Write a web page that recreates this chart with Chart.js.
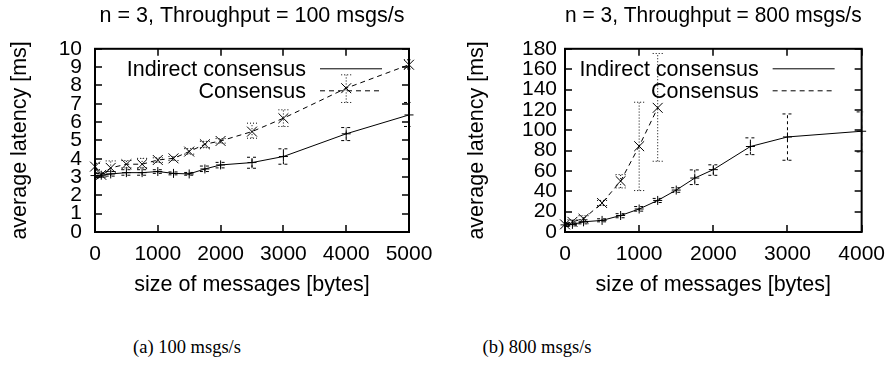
<!DOCTYPE html>
<html>
<head>
<meta charset="utf-8">
<script src="https://cdn.jsdelivr.net/npm/chart.js@4/dist/chart.umd.min.js"></script>
<style>
  body { margin: 0; background: #fff; width: 895px; height: 372px; position: relative; overflow: hidden; }
  canvas { position: absolute; top: 0; }
  .cap { position: absolute; top: 336px; width: 300px; text-align: center; font: 18.5px "Liberation Serif", "Times New Roman", serif; color: #000; line-height: 22px; }
</style>
</head>
<body>
<canvas id="chartA" width="447" height="300" style="left:0"></canvas>
<canvas id="chartB" width="448" height="300" style="left:447px"></canvas>
<div class="cap" style="left:37px">(a) 100 msgs/s</div>
<div class="cap" style="left:387px">(b) 800 msgs/s</div>
<script>
// message sizes (bytes)
const sizes = [0, 100, 250, 500, 750, 1000, 1250, 1500, 1750, 2000, 2500, 3000, 4000, 5000];

// 100 msgs/s
const indirect100 = [3.08, 3.1, 3.17, 3.24, 3.24, 3.3, 3.2, 3.17, 3.44, 3.66, 3.79, 4.12, 5.36, 6.39];
const indirect100Lo = [2.95, 3.0, 3.05, 3.1, 3.1, 3.2, 3.12, 3.1, 3.3, 3.5, 3.48, 3.7, 4.99, 5.76];
const indirect100Hi = [3.2, 3.2, 3.3, 3.4, 3.4, 3.4, 3.28, 3.25, 3.6, 3.8, 4.08, 4.54, 5.7, 7.07];
const consensus100 = [3.57, 3.12, 3.5, 3.7, 3.7, 3.93, 4.02, 4.39, 4.79, 4.97, 5.48, 6.21, 7.85, 9.13];
const consensus100Lo = [3.4, 3.0, 3.3, 3.5, 3.5, 3.8, 3.9, 4.25, 4.6, 4.85, 5.12, 5.76, 7.07, 8.9];
const consensus100Hi = [3.75, 3.25, 3.88, 3.9, 4.02, 4.05, 4.12, 4.55, 4.95, 5.1, 5.94, 6.67, 8.58, 9.4];

// 800 msgs/s
const indirect800 = [7, 7.5, 10, 11.4, 16.2, 22.6, 31, 41.2, 53, 61.3, 84, 93.4, 99];
const indirect800Lo = [5.5, 6, 8, 10, 14, 20.5, 29, 39, 46.6, 55.7, 76, 70.5, 78.7];
const indirect800Hi = [8.5, 9, 12, 13, 18, 25, 33, 43.5, 61, 66, 92.5, 116, 118];
const consensus800 = [7.5, 10, 13, 28.5, 50, 84.3, 122];
const consensus800Lo = [6, 8, 10, 26, 43.3, 40.7, 69.5];
const consensus800Hi = [9, 12, 16, 31, 56.4, 127.5, 175.4];

const seriesNames = ['Indirect consensus', 'Consensus'];
const titles = ['n = 3, Throughput = 100 msgs/s', 'n = 3, Throughput = 800 msgs/s'];
const xTitle = 'size of messages [bytes]';
const yTitle = 'average latency [ms]';

const FONT = '"Liberation Sans", Arial, Helvetica, sans-serif';
const pts = (ys) => ys.map((y, i) => ({x: sizes[i], y: y}));

// gnuplot-like frame, inward ticks, error bars and legend
const gnuplotLook = {
  id: 'gnuplotLook',
  afterDatasetsDraw(chart) {
    const {ctx, chartArea: a, scales} = chart;
    const xs = scales.x, ys = scales.y;
    ctx.save();
    // error bars
    ctx.beginPath();
    ctx.rect(a.left, a.top - 40, a.right - a.left + 1.5, a.bottom - a.top + 40);
    ctx.clip();
    ctx.strokeStyle = '#000';
    ctx.lineWidth = 1;
    chart.data.datasets.forEach((ds) => {
      ctx.setLineDash(ds.errDash);
      ds.data.forEach((p, i) => {
        const px = xs.getPixelForValue(p.x);
        const lo = ys.getPixelForValue(ds.errLo[i]);
        const hi = ys.getPixelForValue(ds.errHi[i]);
        ctx.beginPath();
        ctx.moveTo(px, lo); ctx.lineTo(px, hi);
        ctx.moveTo(px - 5, lo); ctx.lineTo(px + 5, lo);
        ctx.moveTo(px - 5, hi); ctx.lineTo(px + 5, hi);
        ctx.stroke();
      });
    });
    ctx.restore();

    // legend inside top right
    ctx.save();
    ctx.font = '21.5px ' + FONT;
    ctx.fillStyle = '#000';
    ctx.textAlign = 'right';
    ctx.textBaseline = 'middle';
    chart.data.datasets.forEach((ds, i) => {
      const y = a.top + 20 + i * 22;
      const x1 = a.right - 89, x2 = a.right - 27;
      ctx.fillText(ds.label, x1 - 14, y + 1);
      ctx.strokeStyle = '#000';
      ctx.lineWidth = 1;
      ctx.setLineDash(ds.borderDash || []);
      ctx.beginPath();
      ctx.moveTo(x1, y); ctx.lineTo(x2, y);
      ctx.stroke();
    });
    ctx.restore();
  },
  afterDraw(chart) {
    const {ctx, chartArea: a, scales} = chart;
    ctx.save();
    ctx.strokeStyle = '#000';
    ctx.lineWidth = 1.5;
    ctx.beginPath();
    scales.x.ticks.forEach((t) => {
      const px = Math.round(scales.x.getPixelForValue(t.value));
      ctx.moveTo(px, a.bottom); ctx.lineTo(px, a.bottom - 7);
      ctx.moveTo(px, a.top); ctx.lineTo(px, a.top + 7);
    });
    scales.y.ticks.forEach((t) => {
      const py = Math.round(scales.y.getPixelForValue(t.value));
      ctx.moveTo(a.left, py); ctx.lineTo(a.left + 7, py);
      ctx.moveTo(a.right, py); ctx.lineTo(a.right - 7, py);
    });
    ctx.stroke();
    ctx.lineWidth = 2;
    ctx.strokeRect(a.left, a.top, a.right - a.left, a.bottom - a.top);
    ctx.restore();
  }
};

function makeChart(id, title, ind, indLo, indHi, con, conLo, conHi, xMax, yMax, yStep, yWidth, yTitlePad, yTickPad, padRight) {
  const n = ind.length, m = con.length;
  return new Chart(document.getElementById(id), {
    type: 'line',
    data: {
      datasets: [
        {
          label: seriesNames[0],
          data: pts(ind),
          errLo: indLo.slice(0, n), errHi: indHi.slice(0, n), errDash: [3, 3],
          borderColor: '#000', borderWidth: 1,
          pointStyle: 'cross', pointRadius: 4.5, pointBorderWidth: 1, pointBorderColor: '#000',
          tension: 0, clip: false
        },
        {
          label: seriesNames[1],
          data: pts(con),
          errLo: conLo.slice(0, m), errHi: conHi.slice(0, m), errDash: [1, 2],
          borderColor: '#000', borderWidth: 1, borderDash: [5, 4],
          pointStyle: 'crossRot', pointRadius: 7, pointBorderWidth: 1, pointBorderColor: '#000',
          tension: 0, clip: false
        }
      ]
    },
    options: {
      responsive: false,
      animation: false,
      layout: { padding: { left: 0, right: padRight, top: 0, bottom: 0 } },
      plugins: {
        legend: { display: false },
        tooltip: { enabled: false },
        title: {
          display: true, text: title, fullSize: false, color: '#000',
          font: { family: FONT, size: 21.5, weight: 'normal' },
          padding: { top: 3, bottom: 20 }
        }
      },
      scales: {
        x: {
          type: 'linear', min: 0, max: xMax,
          afterFit: (s) => { s.height = 68; },
          grid: { display: false, drawTicks: false },
          border: { display: false },
          ticks: { stepSize: 1000, padding: 10, color: '#000', autoSkip: false, maxRotation: 0,
                   callback: (v) => String(v),
                   font: { family: FONT, size: 21 } },
          title: { display: true, text: xTitle, color: '#000', padding: { top: 0, bottom: 2 },
                   font: { family: FONT, size: 21.5 } }
        },
        y: {
          type: 'linear', min: 0, max: yMax,
          afterFit: (s) => { s.width = yWidth; },
          grid: { display: false, drawTicks: false },
          border: { display: false },
          ticks: { stepSize: yStep, padding: yTickPad, color: '#000', autoSkip: false,
                   callback: (v) => String(v),
                   font: { family: FONT, size: 21 } },
          title: { display: true, text: yTitle, color: '#000', padding: { top: yTitlePad, bottom: 0 },
                   font: { family: FONT, size: 21.5 } }
        }
      }
    },
    plugins: [gnuplotLook]
  });
}

makeChart('chartA', titles[0], indirect100, indirect100Lo, indirect100Hi,
          consensus100, consensus100Lo, consensus100Hi, 5000, 10, 1, 95, 7, 13, 38);
makeChart('chartB', titles[1], indirect800, indirect800Lo, indirect800Hi,
          consensus800, consensus800Lo, consensus800Hi, 4000, 180, 20, 118, 17, 8, 29);
</script>
</body>
</html>
